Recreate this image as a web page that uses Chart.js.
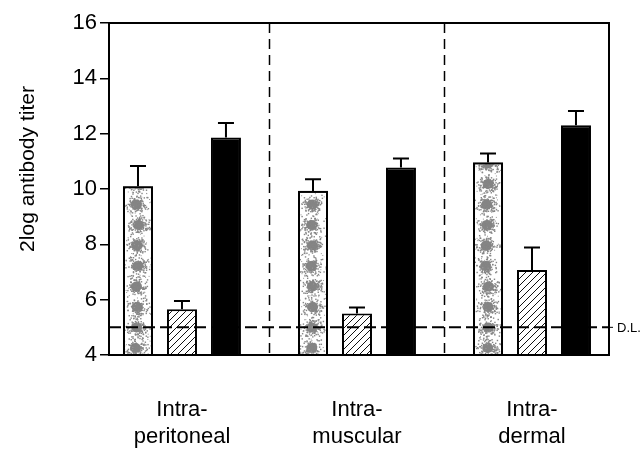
<!DOCTYPE html>
<html>
<head>
<meta charset="utf-8">
<script src="https://cdn.jsdelivr.net/npm/chart.js@4.4.1/dist/chart.umd.min.js"></script>
<style>
  html, body { margin: 0; padding: 0; background: #fff; }
  #wrap { width: 643px; height: 451px; }
</style>
</head>
<body>
<div id="wrap"><canvas id="myChart" width="643" height="451"></canvas></div>
<script>
const routes = [["Intra-", "peritoneal"], ["Intra-", "muscular"], ["Intra-", "dermal"]];
const dottedMeans = [10.1, 9.93, 10.96];
const dottedErr = [0.73, 0.42, 0.32];
const hatchedMeans = [5.65, 5.5, 7.07];
const hatchedErr = [0.3, 0.22, 0.82];
const blackMeans = [11.86, 10.78, 12.3];
const blackErr = [0.53, 0.32, 0.52];
const yTicks = [4, 6, 8, 10, 12, 14, 16];
const detectionLimit = 5;
const yTitle = "2log antibody titer";
const dlLabel = "D.L.";

const FONT = "'Liberation Sans', Arial, sans-serif";
const ctx = document.getElementById("myChart").getContext("2d");

// diagonal hatch fill
function hatchPattern() {
  const c = document.createElement("canvas");
  c.width = 7;
  c.height = 7;
  const g = c.getContext("2d");
  g.fillStyle = "#fff";
  g.fillRect(0, 0, 7, 7);
  g.strokeStyle = "#111";
  g.lineWidth = 1;
  g.beginPath();
  g.moveTo(0, 7); g.lineTo(7, 0);
  g.moveTo(-1, 1); g.lineTo(1, -1);
  g.moveTo(6, 8); g.lineTo(8, 6);
  g.stroke();
  return ctx.createPattern(c, "repeat");
}

// small fixed-seed generator, only for the speckle texture
let seed = 7;
function rnd() {
  seed = (seed * 16807) % 2147483647;
  return seed / 2147483647;
}

function toPoints(values) {
  return values.map((v, i) => ({ x: i, y: v }));
}

const errors = [dottedErr, hatchedErr, blackErr];

const overlay = {
  id: "overlay",
  afterDatasetsDraw(chart) {
    const { ctx, chartArea: a, scales: { x, y } } = chart;
    const base = y.getPixelForValue(y.min);

    // grey blotches inside the first series' bars
    seed = 7;
    chart.getDatasetMeta(0).data.forEach((el) => {
      const l = el.x - el.width / 2 + 2, r = el.x + el.width / 2 - 2;
      const t = el.y + 2, b = base - 1;
      ctx.save();
      ctx.beginPath();
      ctx.rect(l, t, r - l, b - t);
      ctx.clip();
      ctx.fillStyle = "#858585";
      for (let cy = b - 6; cy > t - 6; cy -= 20.5) {
        const cx = el.x - 1 + (rnd() - 0.5) * 3;
        ctx.beginPath();
        ctx.ellipse(cx, cy, 5.5, 5, 0, 0, Math.PI * 2);
        ctx.fill();
        for (let k = 0; k < 120; k++) {
          const dx = (rnd() + rnd() + rnd() - 1.5) * 10;
          const dy = (rnd() + rnd() + rnd() - 1.5) * 9;
          ctx.fillRect(cx + dx, cy + dy, 1.4, 1.4);
        }
      }
      ctx.fillStyle = "#999";
      const n = Math.round((r - l) * (b - t) / 40);
      for (let k = 0; k < n; k++) {
        ctx.fillRect(l + rnd() * (r - l), t + rnd() * (b - t), 1, 1);
      }
      ctx.restore();
      ctx.strokeStyle = "#000";
      ctx.lineWidth = 2;
      ctx.strokeRect(el.x - el.width / 2 + 1, el.y + 1, el.width - 2, base - el.y - 1);
    });

    // upper error bars
    ctx.save();
    ctx.strokeStyle = "#000";
    ctx.lineWidth = 2;
    chart.data.datasets.forEach((ds, di) => {
      chart.getDatasetMeta(di).data.forEach((el, i) => {
        const top = y.getPixelForValue(ds.data[i].y + errors[di][i]);
        ctx.beginPath();
        ctx.moveTo(el.x, el.y);
        ctx.lineTo(el.x, top);
        ctx.moveTo(el.x - 8, top);
        ctx.lineTo(el.x + 8, top);
        ctx.stroke();
      });
    });

    // dashed dividers between the routes
    ctx.setLineDash([10, 6]);
    ctx.lineWidth = 1.5;
    for (let i = 0; i < routes.length - 1; i++) {
      const px = Math.round(x.getPixelForValue(i + 0.5)) + 0.5;
      ctx.beginPath();
      ctx.moveTo(px, a.top);
      ctx.lineTo(px, a.bottom);
      ctx.stroke();
    }

    // detection limit
    const dy = y.getPixelForValue(detectionLimit);
    ctx.setLineDash([12, 5]);
    ctx.lineWidth = 2;
    ctx.beginPath();
    ctx.moveTo(a.left, dy);
    ctx.lineTo(a.right, dy);
    ctx.stroke();
    ctx.setLineDash([]);
    ctx.lineWidth = 1;
    ctx.beginPath();
    ctx.moveTo(a.right, dy);
    ctx.lineTo(a.right + 4, dy);
    ctx.stroke();

    // frame
    ctx.lineWidth = 2;
    ctx.strokeRect(a.left, a.top, a.right - a.left, a.bottom - a.top);

    // texts
    ctx.fillStyle = "#000";
    ctx.font = "13px " + FONT;
    ctx.textAlign = "left";
    ctx.textBaseline = "middle";
    ctx.fillText(dlLabel, a.right + 8, dy + 1);

    ctx.translate(28, 169);
    ctx.rotate(-Math.PI / 2);
    ctx.font = "21px " + FONT;
    ctx.textAlign = "center";
    ctx.fillText(yTitle, 0, 0);
    ctx.restore();
  }
};

const chart = new Chart(ctx, {
  type: "bar",
  data: {
    datasets: [
      {
        label: "dotted",
        data: toPoints(dottedMeans),
        backgroundColor: "#fff",
        borderColor: "#000",
        borderWidth: 0,
      },
      {
        label: "hatched",
        data: toPoints(hatchedMeans),
        backgroundColor: hatchPattern(),
        borderColor: "#000",
        borderWidth: 2,
        borderSkipped: false,
      },
      {
        label: "black",
        data: toPoints(blackMeans),
        backgroundColor: "#000",
        borderColor: "#000",
        borderWidth: 2,
        borderSkipped: false,
      },
    ],
  },
  options: {
    responsive: false,
    animation: false,
    categoryPercentage: 0.754,
    barPercentage: 0.682,
    layout: { padding: { left: 0, right: 34, top: 23, bottom: 0 } },
    plugins: {
      legend: { display: false },
      tooltip: { enabled: false },
    },
    scales: {
      x: {
        type: "linear",
        min: -0.417,
        max: 2.44,
        offset: false,
        afterFit: (s) => { s.height = 96; },
        afterBuildTicks: (s) => { s.ticks = routes.map((r, i) => ({ value: i })); },
        grid: { display: false, offset: false },
        border: { display: true, color: "#000", width: 2 },
        ticks: {
          padding: 34,
          color: "#000",
          font: { family: FONT, size: 22, lineHeight: 1.22 },
          maxRotation: 0,
          callback: (v) => routes[v],
        },
      },
      y: {
        min: 4,
        max: 16,
        afterFit: (s) => { s.width = 109; },
        afterBuildTicks: (s) => { s.ticks = yTicks.map((v) => ({ value: v })); },
        grid: {
          drawOnChartArea: false,
          drawTicks: true,
          tickLength: 9,
          color: "#000",
          lineWidth: 1.5,
        },
        border: { display: true, color: "#000", width: 2 },
        ticks: {
          padding: 3,
          color: "#000",
          font: { family: FONT, size: 22 },
        },
      },
    },
  },
  plugins: [overlay],
});
</script>
</body>
</html>
